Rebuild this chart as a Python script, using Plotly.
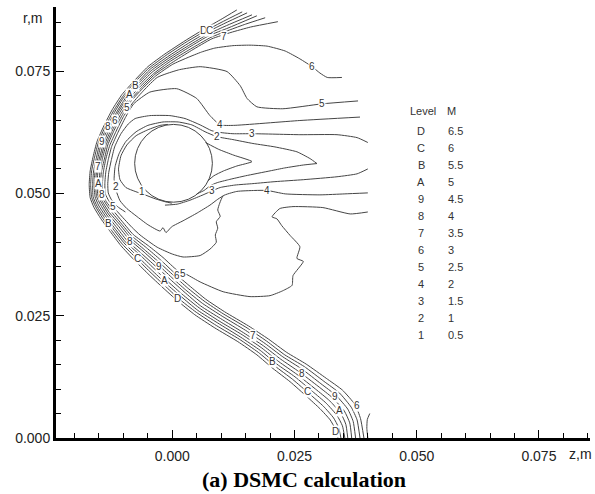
import plotly.graph_objects as go

MM = 1e-3  # isoline coordinates below are in millimetres

# Mach-number isolines, (z, r) pairs in mm.  Shock-layer levels run from the
# outer shock edge (D) inwards; each line follows the bow shock from its upper
# end, around the stagnation region and down to the axis.
iso_D = [(13.2, 87.5), (10.2, 85.7), (6.7, 83.7), (2.6, 81.2), (-1.5, 78.5), (-5.0, 75.9),
         (-7.8, 73.0), (-10.3, 70.2), (-12.3, 67.1), (-14.0, 63.8), (-15.4, 60.6), (-16.2, 57.5),
         (-16.8, 54.6), (-17.0, 51.8), (-16.8, 49.1), (-16.0, 47.1), (-14.6, 44.8), (-12.7, 42.2),
         (-10.5, 39.3), (-7.8, 36.4), (-5.0, 33.6), (-1.9, 30.7), (1.0, 28.1), (4.6, 25.2),
         (8.7, 22.5), (13.4, 19.7), (17.3, 17.0), (20.6, 14.2), (24.1, 11.5), (27.6, 8.4),
         (30.2, 6.0), (32.3, 3.7), (33.3, 1.9), (33.9, 0.0)]
iso_C = [(14.3, 87.1), (10.5, 85.2), (6.9, 83.3), (2.8, 80.9), (-1.3, 78.2), (-4.8, 75.6),
         (-7.6, 72.8), (-10.0, 70.0), (-12.0, 66.9), (-13.7, 63.7), (-15.1, 60.5), (-15.9, 57.4),
         (-16.5, 54.6), (-16.7, 51.8), (-16.5, 49.2), (-15.7, 47.3), (-14.3, 45.0), (-12.4, 42.4),
         (-10.2, 39.6), (-7.4, 36.8), (-4.6, 34.0), (-1.5, 31.1), (1.3, 28.5), (4.9, 25.7),
         (9.0, 23.0), (13.7, 20.2), (17.6, 17.5), (21.0, 14.7), (24.6, 12.0), (28.2, 8.9),
         (30.9, 6.5), (33.0, 4.1), (34.0, 2.2), (34.5, 0.0)]
iso_B = [(15.3, 86.9), (10.8, 84.8), (7.2, 83.0), (3.0, 80.5), (-1.0, 77.9), (-4.5, 75.4),
         (-7.3, 72.5), (-9.8, 69.8), (-11.7, 66.8), (-13.4, 63.5), (-14.8, 60.4), (-15.5, 57.4),
         (-16.1, 54.6), (-16.3, 51.8), (-16.2, 49.3), (-15.4, 47.4), (-14.0, 45.2), (-12.1, 42.7),
         (-9.9, 39.9), (-7.1, 37.1), (-4.3, 34.4), (-1.2, 31.5), (1.7, 29.0), (5.2, 26.1),
         (9.3, 23.5), (14.0, 20.6), (18.0, 17.9), (21.4, 15.1), (25.1, 12.5), (28.7, 9.5),
         (31.5, 7.1), (33.7, 4.6), (34.8, 2.5), (35.3, 0.0)]
iso_A = [(16.3, 86.5), (11.1, 84.3), (7.4, 82.6), (3.3, 80.2), (-0.8, 77.6), (-4.3, 75.1),
         (-7.1, 72.3), (-9.5, 69.6), (-11.4, 66.6), (-13.1, 63.4), (-14.5, 60.3), (-15.2, 57.3),
         (-15.8, 54.5), (-16.0, 51.9), (-15.8, 49.3), (-15.1, 47.6), (-13.7, 45.4), (-11.8, 42.9),
         (-9.6, 40.1), (-6.7, 37.5), (-3.9, 34.8), (-0.8, 31.9), (2.0, 29.4), (5.5, 26.6),
         (9.6, 23.9), (14.3, 21.1), (18.3, 18.4), (21.8, 15.6), (25.5, 13.0), (29.3, 10.0),
         (32.2, 7.6), (34.5, 5.0), (35.5, 2.8), (35.9, 0.0)]
iso_9 = [(17.3, 86.3), (11.4, 83.8), (7.6, 82.3), (3.5, 79.9), (-0.6, 77.3), (-4.1, 74.8),
         (-6.8, 72.1), (-9.3, 69.4), (-11.2, 66.4), (-12.8, 63.3), (-14.1, 60.2), (-14.9, 57.2),
         (-15.5, 54.5), (-15.7, 51.9), (-15.5, 49.4), (-14.7, 47.7), (-13.4, 45.6), (-11.5, 43.2),
         (-9.3, 40.4), (-6.4, 37.8), (-3.5, 35.2), (-0.4, 32.4), (2.4, 29.9), (5.8, 27.0),
         (9.9, 24.4), (14.6, 21.5), (18.7, 18.8), (22.2, 16.1), (26.0, 13.5), (29.8, 10.6),
         (32.8, 8.2), (35.2, 5.5), (36.3, 3.1), (36.7, 0.0)]
iso_8 = [(19.0, 85.9), (15.0, 84.6), (11.7, 83.4), (7.9, 81.9), (3.7, 79.5), (-0.4, 77.0),
         (-3.8, 74.5), (-6.6, 71.8), (-9.0, 69.2), (-10.9, 66.3), (-12.5, 63.1), (-13.8, 60.1),
         (-14.6, 57.2), (-15.2, 54.5), (-15.4, 51.9), (-15.2, 49.5), (-14.4, 47.9), (-13.1, 45.8),
         (-11.1, 43.4), (-8.9, 40.7), (-6.0, 38.2), (-3.1, 35.6), (-0.1, 32.8), (2.7, 30.3),
         (6.2, 27.5), (10.2, 24.9), (15.0, 22.0), (19.0, 19.3), (22.6, 16.6), (26.5, 14.1),
         (30.4, 11.1), (33.5, 8.7), (35.9, 5.9), (37.0, 3.4), (37.5, 0.0)]
iso_7 = [(21.6, 85.1), (16.0, 84.0), (12.0, 82.9), (8.1, 81.6), (3.9, 79.2), (-0.1, 76.7),
         (-3.6, 74.3), (-6.3, 71.6), (-8.7, 69.0), (-10.6, 66.1), (-12.2, 63.0), (-13.5, 60.0),
         (-14.3, 57.1), (-14.8, 54.5), (-15.0, 51.9), (-14.9, 49.6), (-14.1, 48.0), (-12.8, 46.0),
         (-10.8, 43.7), (-8.6, 41.0), (-5.7, 38.5), (-2.8, 36.0), (0.3, 33.2), (3.1, 30.7),
         (6.5, 28.0), (10.4, 25.4), (15.3, 22.5), (19.3, 19.8), (23.0, 17.0), (27.0, 14.6),
         (31.0, 11.6), (34.2, 9.2), (36.6, 6.3), (37.8, 3.7), (38.4, 0.0)]
iso_6 = [(34.7, 73.7), (31.7, 73.7), (30.2, 74.6), (28.6, 75.9), (26.1, 77.5), (23.1, 79.1),
         (19.4, 80.1), (15.9, 80.3), (12.4, 80.2), (8.7, 79.7), (6.0, 78.9), (3.0, 77.7),
         (0.1, 76.4), (-3.4, 74.0), (-6.1, 71.4), (-8.5, 68.8), (-10.3, 65.9), (-11.9, 62.9),
         (-13.2, 59.9), (-13.9, 57.0), (-14.5, 54.4), (-14.7, 51.9), (-14.6, 49.7), (-13.8, 48.2),
         (-12.5, 46.3), (-10.5, 43.9), (-8.3, 41.3), (-5.3, 38.9), (-2.4, 36.4), (0.6, 33.6),
         (3.4, 31.2), (6.8, 28.4), (10.7, 25.8), (15.6, 22.9), (19.7, 20.2), (23.4, 17.5),
         (27.4, 15.1), (31.5, 12.2), (34.8, 9.8), (37.4, 6.8), (38.5, 4.0), (39.2, 0.0)]
iso_5 = [(38.0, 68.9), (30.6, 68.3), (22.6, 67.3), (17.3, 67.7), (15.3, 69.4), (13.9, 72.0),
         (11.2, 74.9), (5.7, 75.9), (1.5, 75.3), (-1.1, 74.5), (-3.1, 73.7), (-5.8, 71.1),
         (-8.1, 68.5), (-10.0, 65.7), (-11.5, 62.7), (-12.8, 59.8), (-13.6, 57.0), (-14.1, 54.4),
         (-14.3, 51.9), (-14.2, 49.8), (-13.5, 48.3), (-12.1, 46.5), (-10.2, 44.2), (-8.0, 41.6),
         (-4.9, 39.3), (-1.9, 36.9), (1.1, 34.2), (3.0, 33.4), (5.7, 31.9), (10.4, 29.9),
         (15.9, 28.9), (20.0, 29.1), (22.6, 30.1), (24.5, 31.2), (24.7, 33.2), (26.8, 36.1),
         (25.5, 36.7), (26.1, 39.1), (24.1, 41.4), (22.4, 43.4), (21.4, 44.8), (20.4, 45.2),
         (22.0, 46.9), (24.7, 47.3), (30.8, 47.1), (36.4, 45.8), (40.0, 46.2)]
iso_5_axis = [(40.4, 5.0), (39.9, 3.8), (39.8, 2.0), (40.0, 0.0)]
iso_4 = [(38.4, 65.6), (26.1, 64.9), (12.5, 63.9), (9.8, 64.0), (7.7, 65.9), (5.0, 69.4),
         (0.9, 71.4), (-4.6, 70.7), (-7.9, 68.3), (-9.6, 65.5), (-11.1, 62.5), (-12.4, 59.6),
         (-13.1, 56.9), (-13.6, 54.4), (-13.8, 52.0), (-13.7, 49.9), (-13.0, 48.5), (-11.7, 46.8),
         (-9.7, 44.6), (-8.2, 43.0), (-6.6, 41.5), (-3.1, 39.0), (0.0, 37.6), (2.2, 37.0),
         (5.7, 37.3), (7.7, 38.6), (9.0, 40.0), (8.8, 41.5), (9.3, 42.9), (9.0, 44.2),
         (9.8, 45.3), (9.3, 46.6), (9.7, 48.0), (10.4, 49.5), (13.2, 50.4), (16.9, 50.6),
         (19.4, 50.6), (23.1, 49.9), (30.2, 49.7), (35.3, 49.9), (40.0, 50.1)]
iso_3 = [(40.0, 60.4), (37.8, 61.4), (33.7, 62.0), (26.1, 62.0), (16.5, 62.2), (12.4, 62.2),
         (10.2, 62.4), (8.1, 62.8), (5.7, 64.0), (2.6, 65.3), (-0.5, 65.9), (-4.6, 65.9),
         (-7.6, 65.3), (-9.0, 64.2), (-10.5, 62.2), (-11.8, 59.5), (-12.5, 56.7), (-13.0, 54.3),
         (-13.2, 52.0), (-13.1, 50.1), (-12.5, 48.8), (-11.2, 47.3), (-9.6, 46.2)]
iso_3_wake = [(-1.5, 47.6), (1.0, 47.8), (3.6, 48.6), (6.3, 49.7), (8.1, 50.5), (9.8, 51.2),
              (12.8, 51.7), (16.5, 52.0), (21.0, 52.4), (26.8, 52.8), (33.7, 53.4), (37.8, 54.0),
              (40.0, 55.0)]
iso_2 = [(29.6, 56.1), (28.2, 57.1), (25.5, 58.5), (21.0, 59.5), (16.5, 60.2), (12.4, 61.0),
         (9.1, 61.6), (6.7, 62.6), (4.0, 64.0), (1.2, 64.6), (-1.9, 64.6), (-5.0, 63.9),
         (-7.4, 62.6), (-9.5, 60.6), (-10.9, 58.1), (-11.7, 55.5), (-11.9, 52.8), (-11.5, 50.6),
         (-10.7, 48.5), (-9.3, 46.9), (-7.4, 45.4), (-5.0, 43.6), (-2.5, 42.3), (-1.9, 43.0),
         (-1.3, 42.0), (-0.1, 43.2), (2.2, 44.4), (5.1, 46.0), (7.7, 47.6), (9.3, 48.8),
         (10.4, 49.5)]
iso_2_wake = [(29.6, 56.1), (26.8, 55.8), (23.0, 55.2), (20.0, 54.6), (15.0, 53.6), (11.5, 52.8),
              (9.2, 52.2), (7.8, 51.6), (6.5, 50.6), (5.0, 49.9)]
iso_1_front = [(-0.9, 64.1), (-2.5, 63.9), (-5.0, 63.0), (-7.4, 61.8), (-9.3, 59.9), (-10.5, 57.7),
               (-11.0, 55.0), (-10.7, 52.8), (-9.5, 51.2), (-7.6, 50.4), (-5.6, 49.7), (-3.5, 48.9),
               (-1.5, 48.3), (-0.1, 48.0)]
iso_1_wake = [(6.8, 60.4), (9.5, 59.0), (12.6, 57.8), (16.3, 56.5), (13.2, 55.6), (10.5, 54.6),
              (8.5, 53.6), (7.3, 52.6)]

# Toroidal body cross-section, mm
body_z, body_r, body_radius = 0.25, 56.15, 7.95

# In-field isoline labels
label_text = ["D", "C", "7", "6", "5", "4", "3", "2", "B", "A", "5", "8", "6", "9", "7", "A",
              "8", "2", "1", "5", "B", "8", "C", "9", "A", "6", "5", "D", "3", "4", "7", "B",
              "8", "C", "9", "A", "6", "D"]
label_z = [6.3, 7.7, 10.6, 28.6, 30.6, 9.8, 16.3, 9.1, -7.6, -8.7, -9.2, -13.1, -11.7, -14.4,
           -15.2, -15.2, -14.4, -11.5, -6.2, -12.1, -13.1, -8.7, -7.2, -2.7, -1.5, 1.0, 2.2, 1.0,
           8.1, 19.4, 16.5, 20.4, 26.5, 27.6, 33.2, 34.2, 37.8, 33.3]
label_r = [83.3, 83.3, 82.0, 75.9, 68.3, 64.0, 62.2, 61.6, 72.0, 70.2, 67.5, 63.6, 64.9, 60.6,
           55.4, 52.0, 49.7, 51.4, 50.4, 47.3, 43.8, 40.1, 36.7, 35.0, 32.2, 33.2, 33.6, 28.5,
           50.6, 50.6, 20.9, 15.6, 13.2, 9.5, 8.5, 5.7, 6.6, 1.3]

# Level table
level_codes = ["D", "C", "B", "A", "9", "8", "7", "6", "5", "4", "3", "2", "1"]
level_mach = ["6.5", "6", "5.5", "5", "4.5", "4", "3.5", "3", "2.5", "2", "1.5", "1", "0.5"]

LINE = dict(color="#454545", width=1, shape="spline", smoothing=0.5)
SANS = "Liberation Sans, Arial, sans-serif"
TEXT_GREY = "#333333"

fig = go.Figure()
for pts in [iso_D, iso_C, iso_B, iso_A, iso_9, iso_8, iso_7, iso_6, iso_5, iso_5_axis,
            iso_4, iso_3, iso_3_wake, iso_2, iso_2_wake, iso_1_front, iso_1_wake]:
    fig.add_trace(go.Scatter(
        x=[p[0] * MM for p in pts], y=[p[1] * MM for p in pts],
        mode="lines", line=LINE, hoverinfo="skip", showlegend=False))

fig.add_shape(type="circle", xref="x", yref="y",
              x0=(body_z - body_radius) * MM, x1=(body_z + body_radius) * MM,
              y0=(body_r - body_radius) * MM, y1=(body_r + body_radius) * MM,
              line=dict(color="#454545", width=1))

for t, z, r in zip(label_text, label_z, label_r):
    fig.add_annotation(x=z * MM, y=r * MM, xref="x", yref="y", text=t, showarrow=False,
                       xanchor="center", yanchor="middle",
                       font=dict(family=SANS, size=10, color=TEXT_GREY),
                       bgcolor="white", borderpad=0)

# page layout helpers (pixel -> paper)
PL, PR, PT, PB = 56, 590, 7, 438
def px_x(px):
    return (px - PL) / (PR - PL)
def px_y(py):
    return (PB - py) / (PB - PT)

def page_text(text, px, py, size, xanchor="center", family=SANS, color=TEXT_GREY):
    fig.add_annotation(xref="paper", yref="paper", x=px_x(px), y=px_y(py), text=text,
                       xanchor=xanchor, yanchor="middle", showarrow=False,
                       font=dict(family=family, size=size, color=color))

page_text("Level", 408, 110.7, 11, xanchor="left")
page_text("M", 445, 110.7, 11, xanchor="left")
for i, (code, m) in enumerate(zip(level_codes, level_mach)):
    row_y = 130.7 + i * 17.03
    page_text(code, 421, row_y, 11)
    page_text(m, 446, row_y, 11, xanchor="left")

page_text("r,m", 32, 18, 14, color="#222222")
page_text("z,m", 580, 454, 14, color="#222222")
page_text("<b>(a) DSMC calculation</b>", 304, 479, 22,
          family="Liberation Serif, Times New Roman, serif", color="black")

axis_common = dict(showline=True, linewidth=3, linecolor="black", ticks="inside", ticklen=8,
                   tickwidth=1, tickcolor="black", dtick=0.025, tick0=0, tickformat=".3f",
                   showgrid=False, zeroline=False,
                   tickfont=dict(family=SANS, size=14, color="#222222"),
                   minor=dict(ticks="inside", ticklen=5, dtick=0.005, tickcolor="black",
                              tickwidth=1, showgrid=False))
fig.update_xaxes(range=[(PL - 172.3) / 4888, (PR - 172.3) / 4888], ticklabelstandoff=3,
                 **axis_common)
fig.update_yaxes(range=[0, 0.0881], **axis_common)

fig.update_layout(width=595, height=494, margin=dict(l=PL, r=595 - PR, t=PT, b=494 - PB),
                  paper_bgcolor="white", plot_bgcolor="white", showlegend=False)

fig.write_html("out.html")
